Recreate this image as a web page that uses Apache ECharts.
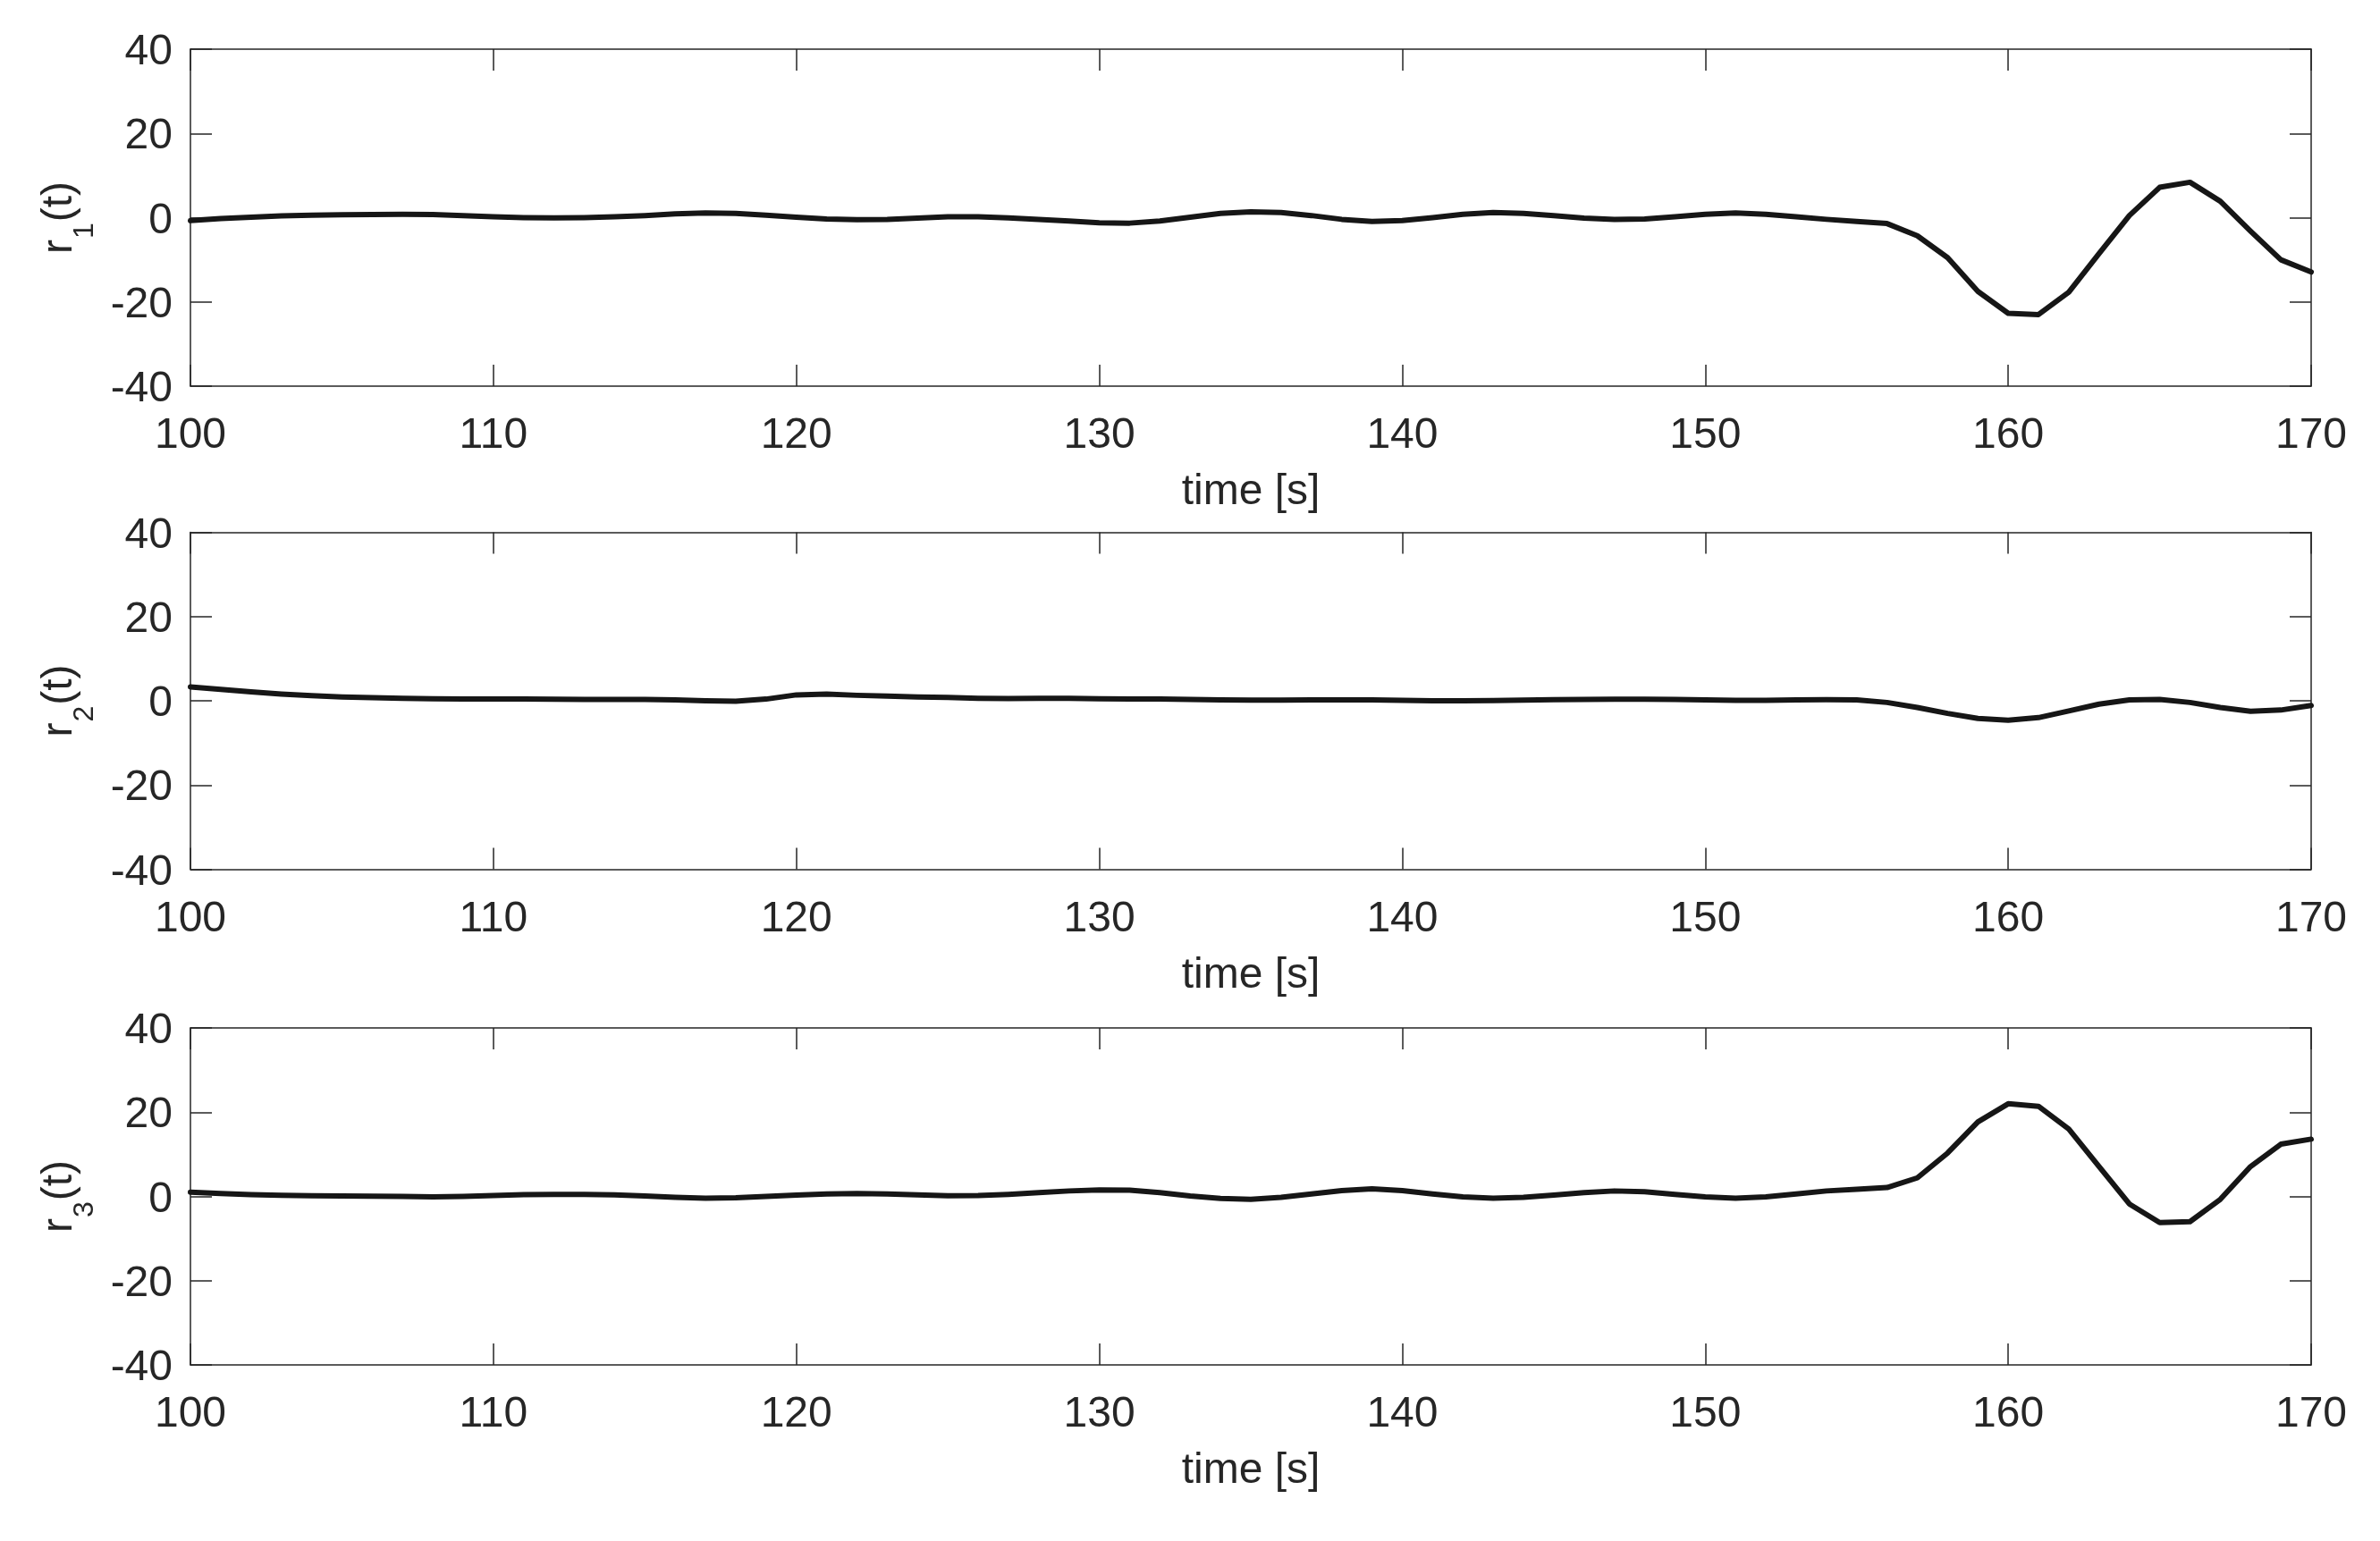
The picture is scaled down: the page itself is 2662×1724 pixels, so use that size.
<!DOCTYPE html>
<html>
<head>
<meta charset="utf-8">
<script src="https://cdn.jsdelivr.net/npm/echarts@6/dist/echarts.min.js"></script>
<style>
html,body{margin:0;padding:0;background:#fff;}
#chart{width:2662px;height:1724px;}
</style>
</head>
<body>
<div id="chart"></div>
<script>
// time samples [s]
var times = [100,101,102,103,104,105,106,107,108,109,110,111,112,113,114,115,116,117,118,119,
  120,121,122,123,124,125,126,127,128,129,130,131,132,133,134,135,136,137,138,139,
  140,141,142,143,144,145,146,147,148,149,150,151,152,153,154,155,156,157,158,159,
  160,161,162,163,164,165,166,167,168,169,170];

// r1(t)
var r1 = [-0.7,-0.2,0.1,0.4,0.6,0.7,0.75,0.8,0.75,0.5,0.2,0.0,-0.05,0.0,0.2,0.5,0.9,1.1,1.0,0.6,
  0.1,-0.3,-0.5,-0.4,-0.1,0.2,0.2,-0.05,-0.4,-0.8,-1.2,-1.3,-0.8,0.1,1.0,1.4,1.2,0.5,-0.4,-0.9,
  -0.7,0.0,0.8,1.2,1.0,0.5,-0.1,-0.4,-0.3,0.2,0.8,1.1,0.8,0.2,-0.4,-0.9,-1.4,-4.3,-9.5,-17.5,
  -22.7,-23.0,-17.7,-8.5,0.5,7.2,8.4,3.9,-3.2,-10.0,-12.9];

// r2(t)
var r2 = [3.3,2.7,2.1,1.6,1.2,0.9,0.75,0.6,0.5,0.45,0.45,0.4,0.35,0.3,0.3,0.3,0.2,0.0,-0.1,0.4,
  1.4,1.6,1.3,1.1,0.9,0.8,0.6,0.55,0.6,0.6,0.5,0.4,0.4,0.3,0.2,0.15,0.15,0.2,0.2,0.2,
  0.1,0.0,0.0,0.05,0.15,0.25,0.3,0.35,0.35,0.3,0.2,0.1,0.1,0.2,0.25,0.2,-0.4,-1.6,-3.0,-4.2,
  -4.6,-4.0,-2.4,-0.8,0.2,0.3,-0.4,-1.6,-2.5,-2.2,-1.1];

// r3(t)
var r3 = [1.0,0.7,0.4,0.25,0.15,0.1,0.05,0.0,-0.1,0.0,0.2,0.4,0.5,0.5,0.35,0.1,-0.2,-0.4,-0.3,0.0,
  0.3,0.6,0.7,0.6,0.35,0.15,0.2,0.5,0.9,1.3,1.55,1.5,0.9,0.1,-0.5,-0.7,-0.2,0.6,1.4,1.8,
  1.4,0.6,-0.1,-0.4,-0.2,0.3,0.9,1.3,1.1,0.5,-0.1,-0.4,-0.1,0.6,1.3,1.7,2.1,4.4,10.3,17.7,
  22.0,21.4,16.0,7.1,-1.8,-6.2,-6.0,-0.7,7.1,12.4,13.6];

var xTicks = [100,110,120,130,140,150,160,170];
var yTicks = [-40,-20,0,20,40];
var yNames = ['1','2','3'];
var xName = 'time [s]';
var seriesList = [r1, r2, r3];

var FONT = "'Liberation Sans', Arial, Helvetica, sans-serif";
var INK = '#262626';
var gridTops = [55, 595.5, 1150];
var gridH = 377;

var grids = [], xAxes = [], yAxes = [], series = [];
for (var i = 0; i < 3; i++) {
  grids.push({left: 213, right: 77, top: gridTops[i], height: gridH, show: false});
  var axLine = {show: true, onZero: false, lineStyle: {color: INK, width: 1.5}};
  var tick = {show: true, inside: true, length: 24, lineStyle: {color: INK, width: 1.5}};
  xAxes.push({
    type: 'value', gridIndex: i, position: 'bottom',
    min: xTicks[0], max: xTicks[xTicks.length - 1], interval: xTicks[1] - xTicks[0],
    axisLine: axLine, axisTick: tick, splitLine: {show: false},
    axisLabel: {show: true, color: INK, fontFamily: FONT, fontSize: 48, lineHeight: 48, margin: 32},
    name: xName, nameLocation: 'middle', nameGap: 91,
    nameTextStyle: {color: INK, fontFamily: FONT, fontSize: 48, lineHeight: 56}
  });
  xAxes.push({
    type: 'value', gridIndex: i, position: 'top',
    min: xTicks[0], max: xTicks[xTicks.length - 1], interval: xTicks[1] - xTicks[0],
    axisLine: axLine, axisTick: tick, splitLine: {show: false}, axisLabel: {show: false}
  });
  yAxes.push({
    type: 'value', gridIndex: i, position: 'left',
    min: yTicks[0], max: yTicks[yTicks.length - 1], interval: yTicks[1] - yTicks[0],
    axisLine: axLine, axisTick: tick, splitLine: {show: false},
    axisLabel: {show: true, color: INK, fontFamily: FONT, fontSize: 48, lineHeight: 8, verticalAlign: 'top', margin: 20},
    name: '{a|r}{s|' + yNames[i] + '}{a|(t)}', nameLocation: 'middle', nameRotate: 90, nameGap: 118,
    nameTextStyle: {
      color: INK, fontFamily: FONT, fontSize: 48,
      rich: {
        a: {color: INK, fontFamily: FONT, fontSize: 48, lineHeight: 56, verticalAlign: 'middle'},
        s: {color: INK, fontFamily: FONT, fontSize: 32, lineHeight: 36, verticalAlign: 'top', padding: [40, 1, 0, 1]}
      }
    }
  });
  yAxes.push({
    type: 'value', gridIndex: i, position: 'right',
    min: yTicks[0], max: yTicks[yTicks.length - 1], interval: yTicks[1] - yTicks[0],
    axisLine: axLine, axisTick: tick, splitLine: {show: false}, axisLabel: {show: false}
  });
  var vals = seriesList[i];
  var data = [];
  for (var k = 0; k < times.length; k++) data.push([times[k], vals[k]]);
  series.push({
    type: 'line', xAxisIndex: 2 * i, yAxisIndex: 2 * i, data: data,
    showSymbol: false, symbol: 'none', smooth: false, animation: false, z: 1,
    lineStyle: {color: '#161616', width: 6, join: 'round', cap: 'round'}
  });
}

var chart = echarts.init(document.getElementById('chart'), null, {renderer: 'canvas'});
chart.setOption({
  animation: false,
  backgroundColor: '#ffffff',
  grid: grids, xAxis: xAxes, yAxis: yAxes, series: series
});
</script>
</body>
</html>
